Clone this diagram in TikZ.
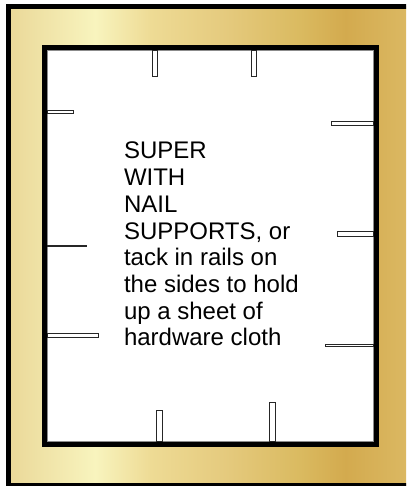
\documentclass[tikz,border=0pt]{standalone}
\usepackage{fontspec}
\setmainfont{Liberation Sans}
\definecolor{g0}{HTML}{EAD898}
\definecolor{g1}{HTML}{F8F4BE}
\definecolor{g2}{HTML}{EEDB95}
\definecolor{g3}{HTML}{E4C97C}
\definecolor{g4}{HTML}{DABA60}
\definecolor{g5}{HTML}{D3AA4E}
\definecolor{g6}{HTML}{DBB862}
\begin{document}
\begin{tikzpicture}[x=1pt,y=-1pt,
  nail/.style={draw=black!85,line width=0.9pt,fill=white},
  txt/.style={anchor=base west,inner sep=0pt,font=\fontsize{24}{26.7}\selectfont}]
\useasboundingbox (0,0) rectangle (406,486);
\begin{scope}
\clip (0,0) rectangle (406,486);
\fill[white] (0,0) rectangle (406,486);
\shade[left color=g0,right color=g1] (8,7) rectangle (95.5,485);
\shade[left color=g1,right color=g2] (95,7) rectangle (150.5,485);
\shade[left color=g2,right color=g3] (150,7) rectangle (230.5,485);
\shade[left color=g3,right color=g4] (230,7) rectangle (300.5,485);
\shade[left color=g4,right color=g5] (300,7) rectangle (345.5,485);
\shade[left color=g5,right color=g6] (345,7) rectangle (406,485);
\draw[line width=5pt,black] (8,7) rectangle (412,485);
\end{scope}
% inner box
\draw[line width=5pt,black,fill=white] (44.2,47.4) rectangle (376.4,444.2);
\draw[line width=0.8pt,black!45] (47.1,50.3) rectangle (373.5,441.3);
% top nails
\draw[nail] (152.5,50) rectangle (157.2,76.5);
\draw[nail] (251.5,50) rectangle (256.3,76.5);
% bottom nails
\draw[nail] (156.5,410.3) rectangle (162.4,441.5);
\draw[nail] (269.6,402.6) rectangle (275.4,441.5);
% left nails
\draw[nail] (47,110.6) rectangle (73.4,113.4);
\draw[nail] (47,245.2) rectangle (86.8,246.4);
\draw[nail] (47,333.6) rectangle (98.8,337);
% right nails
\draw[nail] (331.2,121.2) rectangle (373.5,125);
\draw[nail] (337.2,231.9) rectangle (373.5,236);
\draw[nail] (325.5,344.4) rectangle (373.5,346.8);
% text
\node[txt] (l1) at (123.8,159) {SUPER};
\node[txt] (l2) at (123.8,185.7) {WITH};
\node[txt] (l3) at (123.8,212.4) {NAIL};
\node[txt] (l4) at (123.8,239.1) {SUPPORTS, or};
\node[txt] (l5) at (123.8,265.8) {tack in rails on};
\node[txt] (l6) at (123.8,292.5) {the sides to hold};
\node[txt] (l7) at (123.8,319.2) {up a sheet of};
\node[txt] (l8) at (123.8,345.9) {hardware cloth};
\end{tikzpicture}
\end{document}
